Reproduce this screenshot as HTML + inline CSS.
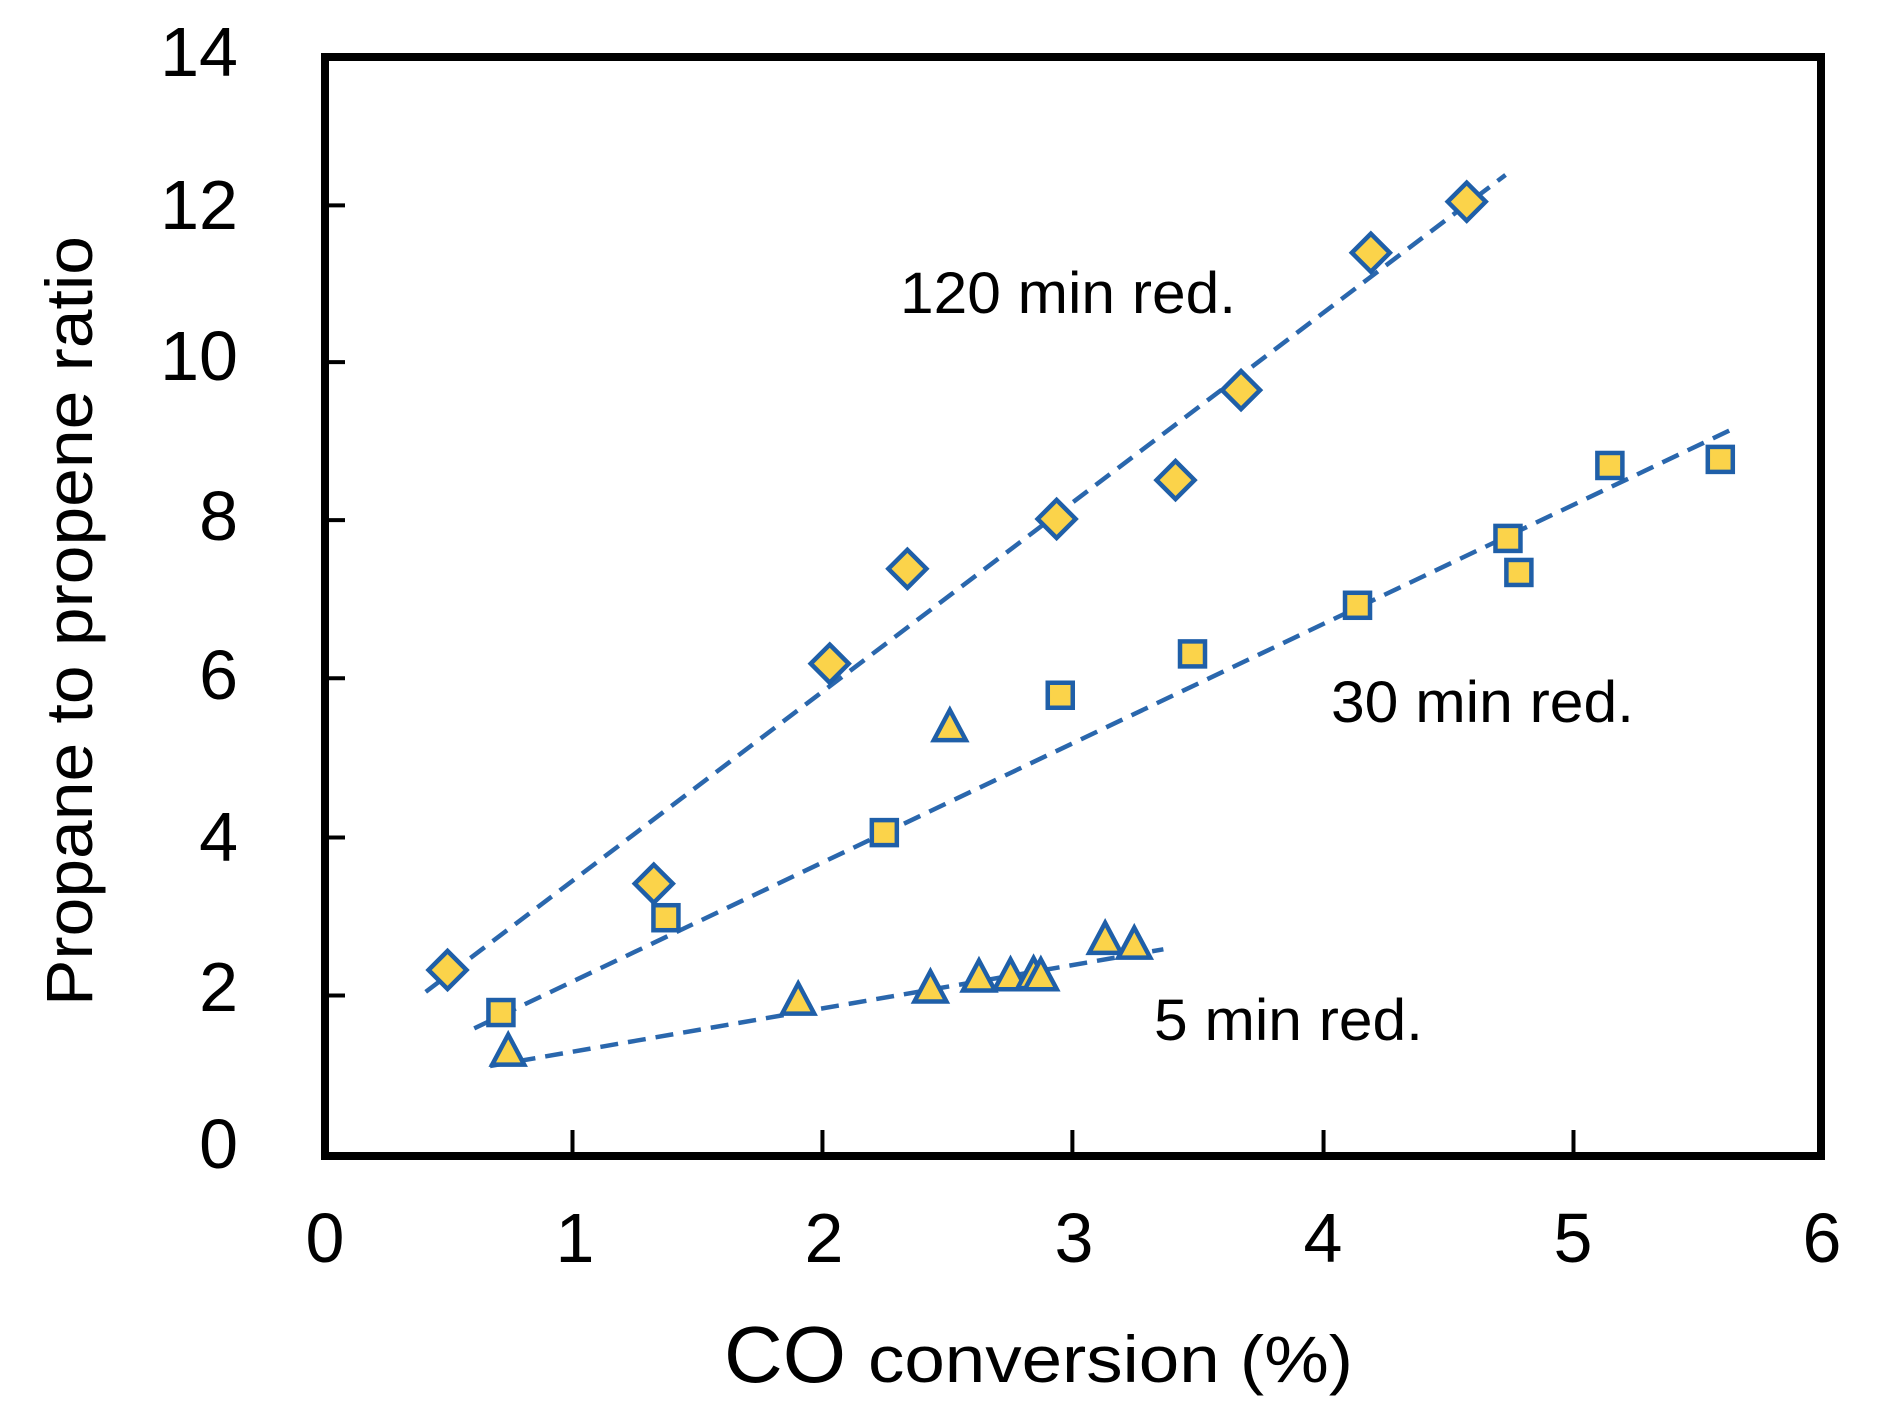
<!DOCTYPE html>
<html><head><meta charset="utf-8"><style>
html,body{margin:0;padding:0;background:#fff;}
svg{display:block;}
text{font-family:"Liberation Sans",Arial,sans-serif;fill:#000;}
</style></head><body>
<svg id="s" width="1904" height="1425" viewBox="0 0 1904 1425" xmlns="http://www.w3.org/2000/svg">
<rect x="325" y="57" width="1496" height="1099" fill="none" stroke="#000" stroke-width="8"/>
<g id="ticks" stroke="#000" stroke-width="4"></g>
<g font-size="70" text-anchor="end">
<text x="238" y="1168">0</text>
<text x="238" y="1011">2</text>
<text x="238" y="861">4</text>
<text x="238" y="699">6</text>
<text x="238" y="540">8</text>
<text x="238" y="380">10</text>
<text x="238" y="229">12</text>
<text x="238" y="76">14</text>
</g>
<g font-size="70" text-anchor="middle">
<text x="325" y="1262">0</text>
<text x="575" y="1262">1</text>
<text x="824" y="1262">2</text>
<text x="1074" y="1262">3</text>
<text x="1323" y="1262">4</text>
<text x="1573" y="1262">5</text>
<text x="1822" y="1262">6</text>
</g>
<text transform="translate(92,621) rotate(-90)" font-size="66" text-anchor="middle" textLength="770" lengthAdjust="spacingAndGlyphs">Propane to propene ratio</text>
<text x="724" y="1382" font-size="80" textLength="122" lengthAdjust="spacingAndGlyphs">CO</text>
<text x="868" y="1382" font-size="66" textLength="485" lengthAdjust="spacingAndGlyphs">conversion (%)</text>
<text x="900" y="313" font-size="58" textLength="336" lengthAdjust="spacingAndGlyphs">120 min red.</text>
<text x="1331" y="722" font-size="58" textLength="303" lengthAdjust="spacingAndGlyphs">30 min red.</text>
<text x="1154" y="1040" font-size="58" textLength="269" lengthAdjust="spacingAndGlyphs">5 min red.</text>
<g id="lines" stroke="#2a67ad" stroke-width="4.5" stroke-dasharray="18 10" fill="none"></g>
<g id="pts" fill="#fbd34a" stroke="#1f5fa8" stroke-width="4.5"></g>
</svg>
<script>
var X=function(v){return 325+(v-267)*1.2133}, Y=function(v){return 57+(v-46)*1.2157};
var NS="http://www.w3.org/2000/svg";
function el(p,t,a){var e=document.createElementNS(NS,t);for(var k in a)e.setAttribute(k,a[k]);document.getElementById(p).appendChild(e);}
[471,677,883,1090,1296].forEach(function(d){el("ticks","line",{x1:X(d),x2:X(d),y1:1156,y2:1130});});
[818,688,557,427,297,168].forEach(function(d){el("ticks","line",{x1:325,x2:345,y1:Y(d),y2:Y(d)});});
el("lines","line",{x1:X(350),y1:Y(815),x2:X(1240),y2:Y(143)});
el("lines","line",{x1:X(390),y1:Y(845),x2:X(1425),y2:Y(353)});
el("lines","line",{x1:X(403),y1:Y(876),x2:X(958),y2:Y(780)});
var D=[[368,797],[538,726],[683,545],[747,467],[870,426],[968,394],[1022,320],[1129,207],[1208,165]];
var S=[[412,832],[548,754],[728,684],[873,571],[982,537],[1118,497],[1242,442],[1251,470],[1326,382],[1417,377]];
var T=[[418,865],[657,823],[766,813],[806,804],[832,803],[851,802],[857,803],[910,773],[934,777],[782,598]];
D.forEach(function(p){var x=X(p[0]),y=Y(p[1]),r=19;el("pts","polygon",{points:x+","+(y-r)+" "+(x+r)+","+y+" "+x+","+(y+r)+" "+(x-r)+","+y});});
S.forEach(function(p){var x=X(p[0]),y=Y(p[1]),h=12.5;el("pts","rect",{x:x-h,y:y-h,width:2*h,height:2*h});});
T.forEach(function(p){var x=X(p[0]),y=Y(p[1]);el("pts","polygon",{points:x+","+(y-18)+" "+(x+16)+","+(y+12)+" "+(x-16)+","+(y+12)});});
</script>
</body></html>
